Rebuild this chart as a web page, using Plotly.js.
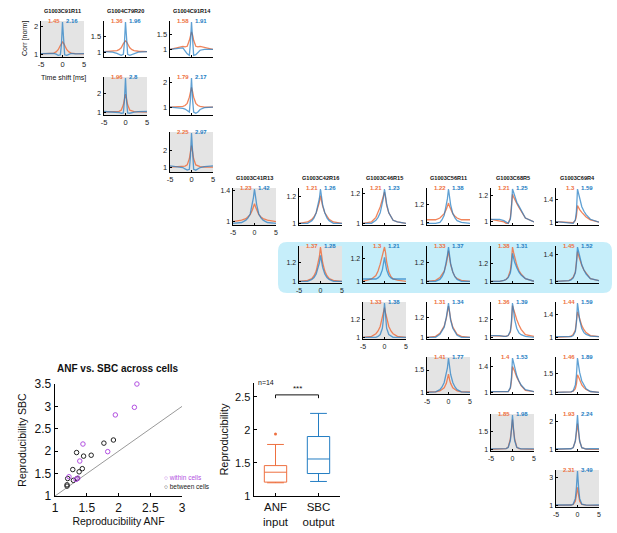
<!DOCTYPE html>
<html><head><meta charset="utf-8">
<script src="https://cdn.plot.ly/plotly-3.0.1.min.js"></script>
<style>html,body{margin:0;padding:0;background:#fff}#chart{width:617px;height:533px}</style>
</head><body><div id="chart"></div>
<script>
// ---------------- DATA ----------------
const shiftMs = [-5,-3,-2,-1.5,-1,-0.5,-0.25,0,0.25,0.5,1,1.5,2,3,5];
const timeTicks = [-5,0,5];

const topCells = ['G1003C91R11','G1004C79R20','G1004C91R14'];
const topPairs = [[0,0],[0,1],[0,2],[1,1],[1,2],[2,2]];
const topAnfPeak = [1.45,1.36,1.58,1.96,1.79,2.25];
const topSbcPeak = [2.16,1.96,1.91,2.8,2.17,2.97];
const topTicks = [[1,2],[1,1.5],[1,1.5],[1,2],[1,2],[1,2]];
const topAnf = [
 [1.03,1.04,1.06,1.1,1.18,1.33,1.41,1.45,1.41,1.33,1.18,1.1,1.06,1.04,1.03],
 [1.02,1.03,1.05,1.08,1.14,1.27,1.33,1.36,1.33,1.27,1.14,1.08,1.05,1.03,1.02],
 [1.0,1.06,1.1,1.08,1.1,1.3,1.48,1.58,1.48,1.3,1.1,1.08,1.1,1.06,1.0],
 [1.02,1.03,1.04,1.06,1.12,1.4,1.7,1.96,1.7,1.4,1.12,1.06,1.04,1.03,1.02],
 [1.0,1.0,1.03,1.06,1.15,1.4,1.62,1.79,1.62,1.4,1.15,1.06,1.03,1.0,1.0],
 [1.02,1.03,1.05,1.08,1.15,1.5,1.9,2.25,1.9,1.5,1.15,1.08,1.05,1.03,1.02]
];
const topSbc = [
 [1.04,1.03,1.05,1.02,0.98,1.0,1.35,2.16,1.35,1.0,0.98,1.02,1.05,1.03,1.04],
 [1.02,1.0,0.96,0.93,0.9,0.93,1.3,1.96,1.3,0.93,0.9,0.93,0.96,1.0,1.02],
 [1.0,1.05,1.05,0.95,0.85,0.8,1.2,1.91,1.2,0.8,0.82,0.9,0.97,1.0,1.0],
 [1.05,1.04,1.02,1.0,0.96,0.98,1.6,2.8,1.6,0.98,0.96,1.0,1.02,1.04,1.05],
 [1.0,0.98,0.95,0.92,0.85,0.8,1.3,2.17,1.3,0.8,0.75,0.8,0.9,0.98,1.0],
 [1.1,1.05,1.0,0.92,0.85,0.9,1.6,2.97,1.6,0.9,0.85,0.92,1.0,1.05,1.1]
];

const midCells = ['G1003C41R13','G1003C42R16','G1003C46R15','G1003C56R11','G1003C68R5','G1003C69R4'];
const midPairs = [[0,0],[0,1],[0,2],[0,3],[0,4],[0,5],
 [1,1],[1,2],[1,3],[1,4],[1,5],
 [2,2],[2,3],[2,4],[2,5],
 [3,3],[3,4],[3,5],
 [4,4],[4,5],
 [5,5]];
const midAnfPeak = [1.23,1.21,1.21,1.22,1.21,1.3, 1.37,1.3,1.33,1.38,1.45, 1.33,1.31,1.36,1.44, 1.41,1.4,1.46, 1.85,1.93, 2.31];
const midSbcPeak = [1.42,1.26,1.23,1.38,1.25,1.59, 1.28,1.21,1.37,1.31,1.52, 1.38,1.34,1.39,1.59, 1.77,1.53,1.89, 1.98,2.24, 3.49];
const midTicks = [[1,1.4],[1,1.2],[1,1.2],[1,1.2],[1,1.2],[1,1.4],
 [1,1.2],[1,1.2],[1,1.2],[1,1.2],[1,1.4],
 [1,1.2],[1,1.2],[1,1.2],[1,1.4],
 [1,1.5],[1,1.4],[1,1.5],
 [1,1.5],[1,2],
 [1,3]];
const midAnf = [
 [1.0,1.02,1.04,1.06,1.09,1.15,1.19,1.23,1.19,1.15,1.09,1.06,1.04,1.02,1.0],
 [1.0,1.01,1.03,1.05,1.08,1.13,1.16,1.21,1.16,1.13,1.08,1.05,1.03,1.01,1.0],
 [1.0,1.01,1.04,1.07,1.11,1.16,1.19,1.21,1.17,1.12,1.07,1.04,1.02,1.01,1.0],
 [1.03,1.03,1.05,1.07,1.1,1.15,1.18,1.22,1.18,1.15,1.1,1.07,1.05,1.03,1.03],
 [1.02,1.01,1.0,0.99,0.99,1.03,1.1,1.21,1.19,1.17,1.14,1.11,1.08,1.03,1.0],
 [1.02,1.01,1.0,0.99,1.0,1.04,1.12,1.3,1.26,1.23,1.18,1.14,1.1,1.05,1.01],
 [1.0,1.01,1.03,1.06,1.11,1.2,1.27,1.37,1.27,1.2,1.11,1.06,1.03,1.01,1.0],
 [1.0,1.02,1.05,1.09,1.15,1.23,1.27,1.3,1.25,1.17,1.08,1.04,1.02,1.01,1.0],
 [1.0,1.01,1.04,1.07,1.11,1.19,1.25,1.33,1.25,1.18,1.1,1.05,1.03,1.01,1.0],
 [1.0,1.0,1.01,1.02,1.05,1.12,1.22,1.38,1.32,1.26,1.18,1.12,1.08,1.03,1.0],
 [1.0,1.0,1.01,1.03,1.06,1.14,1.26,1.45,1.39,1.33,1.24,1.17,1.12,1.04,1.01],
 [1.0,1.01,1.04,1.07,1.12,1.21,1.27,1.33,1.27,1.21,1.12,1.07,1.04,1.01,1.0],
 [1.0,1.01,1.04,1.07,1.11,1.19,1.25,1.31,1.25,1.18,1.1,1.06,1.03,1.01,1.0],
 [1.02,1.01,1.01,1.01,1.02,1.06,1.15,1.36,1.32,1.27,1.2,1.14,1.09,1.03,1.01],
 [1.0,1.0,1.01,1.02,1.05,1.12,1.24,1.44,1.38,1.31,1.2,1.13,1.08,1.03,1.01],
 [1.01,1.01,1.03,1.06,1.1,1.2,1.28,1.41,1.28,1.2,1.1,1.06,1.03,1.01,1.01],
 [1.02,1.02,1.01,1.01,1.02,1.07,1.18,1.4,1.37,1.33,1.24,1.17,1.11,1.04,1.02],
 [1.01,1.01,1.01,1.02,1.04,1.1,1.22,1.46,1.4,1.32,1.2,1.13,1.08,1.03,1.01],
 [1.0,1.0,1.01,1.02,1.06,1.3,1.55,1.85,1.55,1.3,1.06,1.02,1.01,1.0,1.0],
 [1.0,1.0,1.01,1.02,1.06,1.3,1.6,1.93,1.6,1.3,1.06,1.02,1.01,1.0,1.0],
 [1.0,1.0,1.01,1.02,1.06,1.3,1.75,2.31,1.75,1.3,1.06,1.02,1.01,1.0,1.0]
];
const midSbc = [
 [0.98,0.99,1.02,1.05,1.1,1.22,1.31,1.42,1.31,1.22,1.1,1.05,1.02,0.99,0.98],
 [1.0,1.0,1.02,1.04,1.08,1.14,1.19,1.26,1.19,1.14,1.08,1.04,1.02,1.0,1.0],
 [1.0,1.0,1.02,1.04,1.07,1.13,1.17,1.23,1.17,1.13,1.07,1.04,1.02,1.01,1.0],
 [0.99,0.99,1.0,1.03,1.08,1.19,1.27,1.38,1.28,1.2,1.1,1.05,1.02,1.0,0.99],
 [1.02,1.02,1.01,1.0,0.99,1.02,1.1,1.25,1.22,1.19,1.15,1.12,1.09,1.03,1.0],
 [1.02,1.01,1.0,0.99,0.99,1.05,1.2,1.59,1.5,1.4,1.28,1.2,1.14,1.06,1.01],
 [1.0,1.0,1.02,1.04,1.08,1.15,1.2,1.28,1.2,1.15,1.08,1.04,1.02,1.0,1.0],
 [1.02,1.02,1.02,1.03,1.05,1.1,1.15,1.21,1.15,1.1,1.05,1.03,1.02,1.02,1.02],
 [1.0,1.0,1.02,1.05,1.1,1.2,1.28,1.37,1.27,1.19,1.1,1.05,1.02,1.0,1.0],
 [1.0,1.0,1.01,1.02,1.04,1.09,1.17,1.31,1.26,1.21,1.15,1.1,1.07,1.03,1.0],
 [1.0,1.0,1.01,1.02,1.05,1.13,1.27,1.52,1.44,1.36,1.25,1.17,1.11,1.04,1.01],
 [1.0,1.0,1.0,1.01,1.03,1.1,1.2,1.38,1.2,1.1,1.03,1.01,1.0,1.0,1.0],
 [1.0,1.0,1.03,1.06,1.1,1.2,1.27,1.34,1.25,1.17,1.09,1.05,1.02,1.0,1.0],
 [1.02,1.02,1.01,1.01,1.02,1.07,1.18,1.39,1.3,1.2,1.1,1.05,1.03,1.01,1.0],
 [1.01,1.01,1.0,1.01,1.03,1.1,1.25,1.59,1.45,1.3,1.15,1.08,1.05,1.02,1.01],
 [1.0,1.01,1.06,1.12,1.22,1.4,1.55,1.77,1.55,1.4,1.22,1.12,1.06,1.01,1.0],
 [1.02,1.02,1.01,1.01,1.02,1.08,1.22,1.53,1.45,1.37,1.26,1.18,1.12,1.05,1.02],
 [1.01,1.01,1.01,1.02,1.05,1.2,1.45,1.89,1.7,1.52,1.3,1.18,1.1,1.03,1.01],
 [1.01,1.01,1.01,1.02,1.05,1.25,1.55,1.98,1.55,1.25,1.05,1.02,1.01,1.01,1.01],
 [1.01,1.01,1.01,1.02,1.06,1.3,1.7,2.24,1.7,1.3,1.06,1.02,1.01,1.02,1.02],
 [1.02,1.01,1.01,1.02,1.08,1.5,2.3,3.49,2.3,1.5,1.08,1.02,1.01,1.01,1.02]
];

// scatter: reproducibility ANF vs SBC
const withinX = [2.29,2.25,1.95,1.44,1.39,1.83,1.22,1.33,1.36];
const withinY = [3.5,2.98,2.81,2.16,1.78,1.99,1.43,1.37,1.40];
const betweenX = [1.77,1.92,1.34,1.45,1.57,1.28,1.43,1.38,1.29,1.35,1.20,1.19,1.19];
const betweenY = [2.18,2.25,1.97,1.89,1.91,1.59,1.61,1.54,1.35,1.39,1.39,1.25,1.22];
const identityLine = [1,3];
const scatterTicksX = [1,1.5,2,2.5,3];
const scatterTicksY = [1,1.5,2,2.5,3,3.5];

// box plot
const boxCats = ['ANF<br>input','SBC<br>output'];
const boxQ1 = [1.21,1.34];
const boxMedian = [1.36,1.56];
const boxQ3 = [1.46,1.90];
const boxLow = [1.20,1.22];
const boxHigh = [1.78,2.25];
const anfOutlier = [1.94];
const boxTicksY = [1,1.5,2,2.5];
const sigLevel = 2.53;

// ---------------- STYLE / LAYOUT ----------------
const W = 617, H = 533;
const ORANGE = 'rgb(238,112,64)', BLUE = 'rgb(35,125,195)';
const ORANGE_L = 'rgba(238,112,64,0.85)', BLUE_L = 'rgba(35,125,195,0.72)';
const GRAY = '#e4e4e4', CYAN = 'rgb(198,238,250)', PURPLE = 'rgb(178,80,225)';
const FONT = 'Liberation Sans, Arial, sans-serif';
const PW = 43;
const TOP_X = [41,104,170], TOP_Y = [21,77,132], TOP_H = [36,38,40];
const MID_X = [233,299,363,427,491,556], MID_Y = [188,246,302,357,414,470], MID_H = 37;

const data = [], shapes = [], annotations = [];
const layout = {width:W, height:H, margin:{l:0,r:0,t:0,b:0}, showlegend:false,
  paper_bgcolor:'#fff', plot_bgcolor:'rgba(0,0,0,0)', font:{family:FONT, color:'#111'}};
const fx = px => px/W, fy = py => 1 - py/H;
let n = 0;
const sfx = i => (i === 1 ? '' : String(i));

// cyan highlight (rounded)
(function(){
  const x0=278,x1=612,y0=242,y1=293,r=9;
  const P=(x,y)=>fx(x)+','+fy(y);
  shapes.push({type:'path', xref:'paper', yref:'paper', layer:'below', fillcolor:CYAN, line:{width:0},
    path:'M'+P(x0+r,y0)+' L'+P(x1-r,y0)+' Q'+P(x1,y0)+' '+P(x1,y0+r)+' L'+P(x1,y1-r)+' Q'+P(x1,y1)+' '+P(x1-r,y1)+
         ' L'+P(x0+r,y1)+' Q'+P(x0,y1)+' '+P(x0,y1-r)+' L'+P(x0,y0+r)+' Q'+P(x0,y0)+' '+P(x0+r,y0)+' Z'});
})();

function addPanel(left, top, h, anf, sbc, ticks, diag, anfPk, sbcPk, tfs){
  n++; const s = sfx(n);
  const all = anf.concat(sbc);
  const lo = Math.min(...all), hi = Math.max(...all), sp = hi - lo;
  const axBase = {showline:true, linecolor:'#000', linewidth:1.4, showgrid:false, zeroline:false,
    ticks:'inside', ticklen:2, tickcolor:'#000', tickwidth:1, fixedrange:true,
    tickfont:{size:tfs, family:FONT, color:'#222'}};
  layout['xaxis'+s] = Object.assign({}, axBase, {domain:[fx(left), fx(left+PW)], anchor:'y'+s,
    range:[-5,5], tickvals:timeTicks, ticktext:timeTicks.map(String), showticklabels:diag});
  layout['yaxis'+s] = Object.assign({}, axBase, {domain:[fy(top+h), fy(top)], anchor:'x'+s,
    range:[lo-0.05*sp, hi+0.03*sp], tickvals:ticks, ticktext:ticks.map(String)});
  if (diag) shapes.push({type:'rect', xref:'x'+s+' domain', yref:'y'+s+' domain', x0:0,x1:1,y0:0,y1:1,
    fillcolor:GRAY, line:{width:0}, layer:'below'});
  data.push({type:'scatter', mode:'lines', x:shiftMs, y:anf, xaxis:'x'+s, yaxis:'y'+s,
    line:{color:ORANGE_L, width:1.3}, hoverinfo:'skip'});
  data.push({type:'scatter', mode:'lines', x:shiftMs, y:sbc, xaxis:'x'+s, yaxis:'y'+s,
    line:{color:BLUE_L, width:1.3}, hoverinfo:'skip'});
  annotations.push({xref:'x'+s, yref:'y'+s+' domain', x:0, y:1, xanchor:'right', yanchor:'middle', xshift:-1,
    text:'<b>'+anfPk+'</b>', showarrow:false, font:{size:6, family:FONT, color:ORANGE}});
  annotations.push({xref:'x'+s, yref:'y'+s+' domain', x:0, y:1, xanchor:'left', yanchor:'middle', xshift:1,
    text:'<b>'+sbcPk+'</b>', showarrow:false, font:{size:6, family:FONT, color:BLUE}});
}

topPairs.forEach((p,i)=>{
  const [r,c] = p;
  addPanel(TOP_X[c], TOP_Y[r], TOP_H[r], topAnf[i], topSbc[i], topTicks[i], r===c, topAnfPeak[i], topSbcPeak[i], 7.5);
});
midPairs.forEach((p,i)=>{
  const [r,c] = p;
  addPanel(MID_X[c], MID_Y[r], MID_H, midAnf[i], midSbc[i], midTicks[i], r===c, midAnfPeak[i], midSbcPeak[i], 7);
});

// column titles
topCells.forEach((t,c)=>annotations.push({xref:'paper', yref:'paper', x:fx(TOP_X[c]+PW/2), y:fy(11),
  xanchor:'center', yanchor:'middle', text:'<b>'+t+'</b>', showarrow:false, font:{size:5.6, family:FONT, color:'#111'}}));
midCells.forEach((t,c)=>annotations.push({xref:'paper', yref:'paper', x:fx(MID_X[c]+PW/2), y:fy(178),
  xanchor:'center', yanchor:'middle', text:'<b>'+t+'</b>', showarrow:false, font:{size:5.6, family:FONT, color:'#111'}}));
annotations.push({xref:'paper', yref:'paper', x:fx(63), y:fy(78), xanchor:'center', yanchor:'middle',
  text:'Time shift [ms]', showarrow:false, font:{size:7, family:FONT, color:'#111'}});
annotations.push({xref:'paper', yref:'paper', x:fx(25), y:fy(39), xanchor:'center', yanchor:'middle', textangle:-90,
  text:'Corr [norm]', showarrow:false, font:{size:7, family:FONT, color:'#111'}});

// ---------------- SCATTER ----------------
n++; const sS = sfx(n);
const bigAx = {showline:true, linecolor:'#000', linewidth:1.4, showgrid:false, zeroline:false,
  ticks:'inside', ticklen:3, tickcolor:'#000', fixedrange:true, tickfont:{size:12, family:FONT, color:'#111'}};
layout['xaxis'+sS] = Object.assign({}, bigAx, {domain:[fx(55), fx(182)], anchor:'y'+sS, range:[1,3],
  tickvals:scatterTicksX, ticktext:scatterTicksX.map(String),
  title:{text:'Reproducibility ANF', font:{size:10.5, family:FONT, color:'#111'}, standoff:1}});
layout['yaxis'+sS] = Object.assign({}, bigAx, {domain:[fy(496), fy(384)], anchor:'x'+sS, range:[1,3.5],
  tickvals:scatterTicksY, ticktext:scatterTicksY.map(String),
  title:{text:'Reproducibility SBC', font:{size:10.5, family:FONT, color:'#111'}, standoff:6}});
data.push({type:'scatter', mode:'lines', x:identityLine, y:identityLine, xaxis:'x'+sS, yaxis:'y'+sS,
  line:{color:'#999', width:1}, hoverinfo:'skip'});
data.push({type:'scatter', mode:'markers', x:betweenX, y:betweenY, xaxis:'x'+sS, yaxis:'y'+sS, cliponaxis:false,
  marker:{symbol:'circle-open', size:4.5, color:'#222', line:{width:1}}, hoverinfo:'skip'});
data.push({type:'scatter', mode:'markers', x:withinX, y:withinY, xaxis:'x'+sS, yaxis:'y'+sS, cliponaxis:false,
  marker:{symbol:'circle-open', size:4.5, color:PURPLE, line:{width:1}}, hoverinfo:'skip'});
annotations.push({xref:'paper', yref:'paper', x:fx(118), y:fy(368), xanchor:'center', yanchor:'middle',
  text:'<b>ANF vs. SBC across cells</b>', showarrow:false, font:{size:10, family:FONT, color:'#111'}});
annotations.push({xref:'paper', yref:'paper', x:fx(162), y:fy(477), xanchor:'left', yanchor:'middle',
  text:'○ within cells', showarrow:false, font:{size:6.5, family:FONT, color:PURPLE}});
annotations.push({xref:'paper', yref:'paper', x:fx(162), y:fy(486), xanchor:'left', yanchor:'middle',
  text:'○ between cells', showarrow:false, font:{size:6.5, family:FONT, color:'#222'}});

// ---------------- BOX ----------------
n++; const sB = sfx(n);
layout['xaxis'+sB] = Object.assign({}, bigAx, {domain:[fx(254), fx(340)], anchor:'y'+sB, range:[0.5,2.5],
  tickvals:[1,2], ticktext:boxCats, tickfont:{size:11.5, family:FONT, color:'#111'}});
layout['yaxis'+sB] = Object.assign({}, bigAx, {domain:[fy(496), fy(383)], anchor:'x'+sB, range:[1,2.71],
  tickvals:boxTicksY, ticktext:boxTicksY.map(String), tickfont:{size:11, family:FONT, color:'#111'},
  title:{text:'Reproducibility', font:{size:11, family:FONT, color:'#111'}, standoff:4}});
const boxColors = [ORANGE, BLUE];
[0,1].forEach(i=>data.push({type:'box', x:[i+1], q1:[boxQ1[i]], median:[boxMedian[i]], q3:[boxQ3[i]],
  lowerfence:[boxLow[i]], upperfence:[boxHigh[i]], width:0.52, whiskerwidth:0.75, boxpoints:false,
  fillcolor:'rgba(0,0,0,0)', line:{color:boxColors[i], width:1}, xaxis:'x'+sB, yaxis:'y'+sB, hoverinfo:'skip'}));
data.push({type:'scatter', mode:'markers', x:[1], y:anfOutlier, xaxis:'x'+sB, yaxis:'y'+sB,
  marker:{size:3, color:ORANGE}, hoverinfo:'skip'});
shapes.push({type:'path', xref:'x'+sB, yref:'y'+sB, line:{color:'#111', width:1},
  path:'M1,'+(sigLevel-0.05)+' L1,'+sigLevel+' L2,'+sigLevel+' L2,'+(sigLevel-0.05)});
annotations.push({xref:'x'+sB, yref:'y'+sB, x:1.5, y:sigLevel, xanchor:'center', yanchor:'bottom',
  text:'***', showarrow:false, font:{size:8, family:FONT, color:'#111'}});
annotations.push({xref:'paper', yref:'paper', x:fx(256), y:fy(383), xanchor:'left', yanchor:'middle',
  text:'n=14', showarrow:false, font:{size:7, family:FONT, color:'#111'}});

layout.shapes = shapes;
layout.annotations = annotations;
Plotly.newPlot('chart', data, layout, {displayModeBar:false, staticPlot:true});
</script></body></html>
